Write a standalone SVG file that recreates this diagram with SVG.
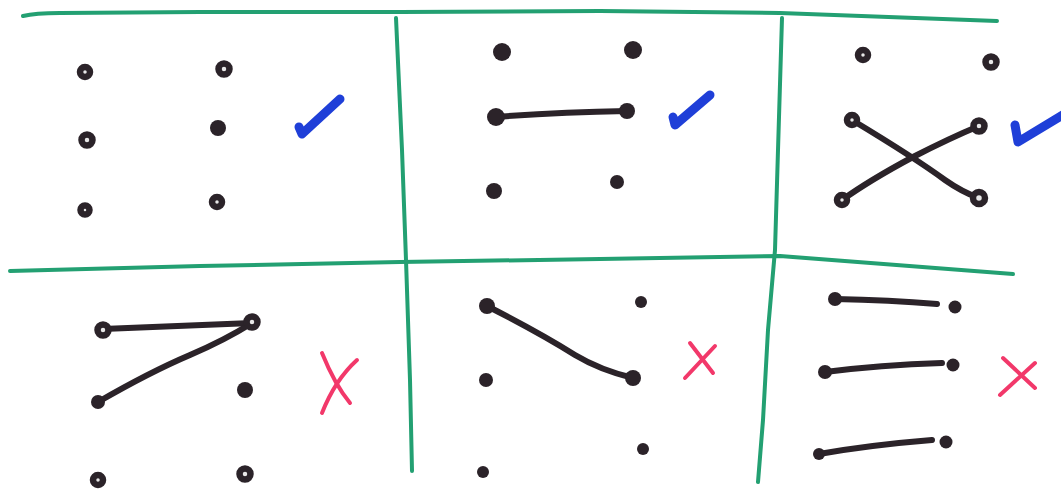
<svg xmlns="http://www.w3.org/2000/svg" width="1061" height="493" viewBox="0 0 1061 493">
<style>
.grid{fill:none;stroke:#23a072;stroke-width:4;stroke-linecap:round;stroke-linejoin:round}
.edge{fill:none;stroke:#2b2329;stroke-width:6;stroke-linecap:round}
.ring{fill:#e8e8e8;stroke:#2b2329;stroke-width:6.5}
.dot{fill:#2b2329}
.ok{fill:none;stroke:#1f3fd8;stroke-width:9;stroke-linecap:round;stroke-linejoin:round}
.no{fill:none;stroke:#f2386a;stroke-width:4;stroke-linecap:round}
</style>
<rect width="1061" height="493" fill="#ffffff"/>
<g id="grid">
<path class="grid" d="M23,16 Q35,13 60,13 L200,12 L400,12 L600,11 L780,13 L997,21"/>
<path class="grid" d="M10,271 L200,266 L400,262 L600,259 L780,256 L1013,274"/>
<path class="grid" d="M396,18 L402,150 L406,260 L410,380 L412,471"/>
<path class="grid" d="M782,18 L778,150 L775,250 L768,330 L763,420 L758,482"/>
</g>
<g id="connectors">
<path class="edge" d="M496,117 Q560,112 627,111"/>
<path class="edge" d="M852,120 Q915,158 945,180 Q962,192 979,198"/>
<path class="edge" d="M842,200 Q870,180 913,157 Q950,138 979,126"/>
<path class="edge" d="M103,329 L252,323"/>
<path class="edge" d="M98,402 Q150,372 190,355 Q225,340 252,323"/>
<path class="edge" d="M487,306 Q540,333 575,355 Q600,370 633,378"/>
<path class="edge" d="M835,299 Q890,300 937,304"/>
<path class="edge" d="M825,372 Q880,365 942,363"/>
<path class="edge" d="M819,454 Q870,445 932,440"/>
</g>
<g id="panel-1">
<circle class="ring" cx="85" cy="72" r="5"/>
<circle class="ring" cx="224" cy="69" r="5.5"/>
<circle class="ring" cx="87" cy="140" r="5.5"/>
<circle class="dot" cx="218" cy="128" r="8"/>
<circle class="ring" cx="85" cy="210" r="4.5"/>
<circle class="ring" cx="217" cy="202" r="5"/>
<path class="ok" d="M299,127 L302,134 L340,99"/>
</g>
<g id="panel-2">
<circle class="dot" cx="502" cy="52" r="9"/>
<circle class="dot" cx="633" cy="50" r="9"/>
<circle class="dot" cx="496" cy="117" r="9"/>
<circle class="dot" cx="627" cy="111" r="8"/>
<circle class="dot" cx="494" cy="191" r="8"/>
<circle class="dot" cx="617" cy="182" r="7"/>
<path class="ok" d="M673,117 L675,125 L710,95"/>
</g>
<g id="panel-3">
<circle class="ring" cx="863" cy="55" r="5"/>
<circle class="ring" cx="991" cy="62" r="5.5"/>
<circle class="ring" cx="852" cy="120" r="5"/>
<circle class="ring" cx="979" cy="126" r="5.5"/>
<circle class="ring" cx="842" cy="200" r="5"/>
<circle class="ring" cx="979" cy="198" r="6"/>
<path class="ok" d="M1015,125 L1018,142 L1066,113"/>
</g>
<g id="panel-4">
<circle class="ring" cx="103" cy="330" r="5.5"/>
<circle class="ring" cx="252" cy="322" r="5.5"/>
<circle class="dot" cx="98" cy="402" r="7"/>
<circle class="dot" cx="245" cy="390" r="8"/>
<circle class="ring" cx="98" cy="480" r="5"/>
<circle class="ring" cx="245" cy="474" r="5.5"/>
<path class="no" d="M322,353 Q335,385 350,403"/>
<path class="no" d="M357,360 Q335,380 322,413"/>
</g>
<g id="panel-5">
<circle class="dot" cx="487" cy="306" r="8"/>
<circle class="dot" cx="641" cy="302" r="6"/>
<circle class="dot" cx="486" cy="380" r="7"/>
<circle class="dot" cx="633" cy="378" r="8"/>
<circle class="dot" cx="483" cy="472" r="6"/>
<circle class="dot" cx="643" cy="449" r="6"/>
<path class="no" d="M690,343 L713,373"/>
<path class="no" d="M715,346 L685,378"/>
</g>
<g id="panel-6">
<circle class="dot" cx="835" cy="299" r="7"/>
<circle class="dot" cx="955" cy="307" r="6.5"/>
<circle class="dot" cx="825" cy="372" r="7"/>
<circle class="dot" cx="953" cy="365" r="6.5"/>
<circle class="dot" cx="819" cy="454" r="6"/>
<circle class="dot" cx="946" cy="442" r="6.5"/>
<path class="no" d="M1003,358 L1035,388"/>
<path class="no" d="M1035,363 L1000,395"/>
</g>
</svg>
